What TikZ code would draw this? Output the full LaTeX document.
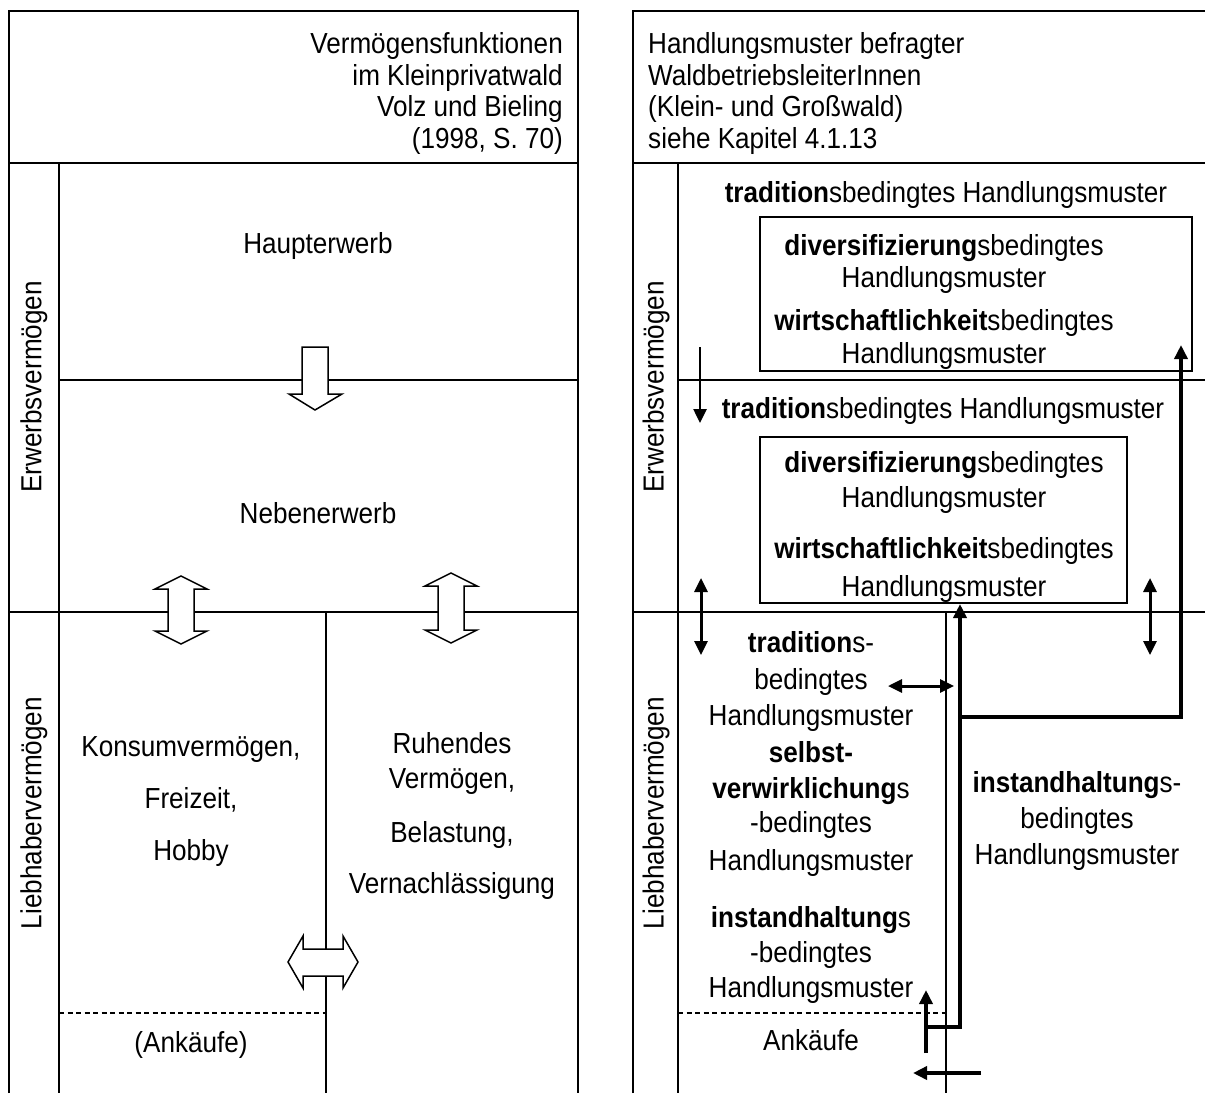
\documentclass[tikz,border=0pt]{standalone}
\usepackage{fontspec}
\setmainfont[FakeStretch=0.9]{Liberation Sans}
\usetikzlibrary{arrows.meta}
\tikzset{
  txt/.style={font=\fontsize{29}{35}\selectfont, inner sep=0pt, anchor=base},
  txtl/.style={txt, anchor=base west},
  txtr/.style={txt, anchor=base east},
  vlabel/.style={font=\fontsize{29}{35}\selectfont, inner sep=0pt, rotate=90, anchor=center},
  rule/.style={line width=2pt},
  dashrule/.style={line width=1.2pt, dash pattern=on 5pt off 3.5pt},
  innerbox/.style={draw, line width=2pt, inner sep=0pt},
  blockarrow/.style={draw, fill=white, line width=1.5pt, line join=miter},
  tip/.tip={Triangle[length=14pt,width=13pt]},
  arr/.style={line width=3pt, -tip},
  darr/.style={line width=3pt, tip-tip},
  heavy/.style={line width=4pt, line join=miter, -tip},
  heavyplain/.style={line width=4pt, line join=miter}
}
\begin{document}
\begin{tikzpicture}[x=1pt,y=-1pt]
\useasboundingbox (0,0) rectangle (1205,1093);

% ---------------- left panel frame
\draw[rule] (9,1093) -- (9,11) -- (578,11) -- (578,1093);
\draw[rule] (9,163) -- (578,163);
\draw[rule] (59,163) -- (59,1093);
\draw[rule] (59,380) -- (578,380);
\draw[rule] (9,612) -- (578,612);
\draw[rule] (326,612) -- (326,1093);
\draw[dashrule] (59,1013) -- (326,1013);

% ---------------- right panel frame
\draw[rule] (633,1093) -- (633,11) -- (1205,11);
\draw[rule] (633,163) -- (1205,163);
\draw[rule] (678,163) -- (678,1093);
\draw[rule] (678,380) -- (1205,380);
\draw[rule] (633,612) -- (1205,612);
\draw[rule] (946,612) -- (946,1093);
\draw[dashrule] (678,1013) -- (946,1013);

% ---------------- left panel texts
\node[txtr] (lh1) at (563,53) {Vermögensfunktionen};
\node[txtr] (lh2) at (563,85) {im Kleinprivatwald};
\node[txtr] (lh3) at (563,116) {Volz und Bieling};
\node[txtr] (lh4) at (563,148) {(1998, S. 70)};
\node[vlabel] (lerw) at (34,387) {Erwerbsvermögen};
\node[vlabel] (llieb) at (34,813) {Liebhabervermögen};
\node[txt] (haupt) at (318,253) {Haupterwerb};
\node[txt] (neben) at (318,523) {Nebenerwerb};
\node[txt] (konsum) at (191,756) {Konsumvermögen,};
\node[txt] (freizeit) at (191,808) {Freizeit,};
\node[txt] (hobby) at (191,860) {Hobby};
\node[txt] (ruh) at (452,753) {Ruhendes};
\node[txt] (verm) at (452,788) {Vermögen,};
\node[txt] (bel) at (452,842) {Belastung,};
\node[txt] (vern) at (452,893) {Vernachlässigung};
\node[txt] (lank) at (191,1052) {(Ankäufe)};

% ---------------- left panel block arrows
\draw[blockarrow] (302,347) -- (328,347) -- (328,394) -- (342,394) -- (315,410)
  -- (289,394) -- (302,394) -- cycle;
\draw[blockarrow] (181,576) -- (207,589) -- (194,589) -- (194,631) -- (207,631)
  -- (181,644) -- (155,631) -- (168,631) -- (168,589) -- (155,589) -- cycle;
\draw[blockarrow] (451,573) -- (477,586) -- (464,586) -- (464,630) -- (477,630)
  -- (451,643) -- (425,630) -- (438,630) -- (438,586) -- (425,586) -- cycle;
\draw[blockarrow] (288,962) -- (303,936) -- (303,949) -- (343,949) -- (343,936)
  -- (358,962) -- (343,988) -- (343,976) -- (303,976) -- (303,988) -- cycle;

% ---------------- right panel texts
\node[txtl] (rh1) at (648,53) {Handlungsmuster befragter};
\node[txtl] (rh2) at (648,85) {WaldbetriebsleiterInnen};
\node[txtl] (rh3) at (648,116) {(Klein- und Großwald)};
\node[txtl] (rh4) at (648,148) {siehe Kapitel 4.1.13};
\node[vlabel] (rerw) at (656,387) {Erwerbsvermögen};
\node[vlabel] (rlieb) at (656,813) {Liebhabervermögen};

\node[txt] (trad1) at (946,202) {\textbf{tradition}sbedingtes Handlungsmuster};
\node[innerbox, minimum width=432pt, minimum height=154pt] (box1) at (976,294) {};
\node[txt] (b1a) at (944,255) {\textbf{diversifizierung}sbedingtes};
\node[txt] (b1b) at (944,287) {Handlungsmuster};
\node[txt] (b1c) at (944,330) {\textbf{wirtschaftlichkeit}sbedingtes};
\node[txt] (b1d) at (944,363) {Handlungsmuster};

\node[txt] (trad2) at (943,418) {\textbf{tradition}sbedingtes Handlungsmuster};
\node[innerbox, minimum width=367pt, minimum height=166pt] (box2) at (943.5,520) {};
\node[txt] (b2a) at (944,472) {\textbf{diversifizierung}sbedingtes};
\node[txt] (b2b) at (944,507) {Handlungsmuster};
\node[txt] (b2c) at (944,558) {\textbf{wirtschaftlichkeit}sbedingtes};
\node[txt] (b2d) at (944,596) {Handlungsmuster};

\node[txt] (l1) at (811,652) {\textbf{tradition}s-};
\node[txt] (l2) at (811,689) {bedingtes};
\node[txt] (l3) at (811,725) {Handlungsmuster};
\node[txt] (l4) at (811,762) {\textbf{selbst-}};
\node[txt] (l5) at (811,798) {\textbf{verwirklichung}s};
\node[txt] (l6) at (811,832) {-bedingtes};
\node[txt] (l7) at (811,870) {Handlungsmuster};
\node[txt] (l8) at (811,927) {\textbf{instandhaltung}s};
\node[txt] (l9) at (811,962) {-bedingtes};
\node[txt] (l10) at (811,997) {Handlungsmuster};
\node[txt] (rank) at (811,1050) {Ankäufe};

\node[txt] (i1) at (1077,792) {\textbf{instandhaltung}s-};
\node[txt] (i2) at (1077,828) {bedingtes};
\node[txt] (i3) at (1077,864) {Handlungsmuster};

% ---------------- right panel arrows
\coordinate (da1) at (700,347);
\coordinate (da2) at (700,423);
\draw[arr, line width=2.5pt] (da1) -- (da2);
\coordinate (la1) at (701,578);
\coordinate (la2) at (701,655);
\draw[darr] (la1) -- (la2);
\coordinate (ra1) at (1150,578);
\coordinate (ra2) at (1150,655);
\draw[darr] (ra1) -- (ra2);
\coordinate (ha1) at (888,686);
\coordinate (ha2) at (954,686);
\draw[darr] (ha1) -- (ha2);

\coordinate (p1) at (926,1027);
\coordinate (p2) at (960,1027);
\coordinate (p3) at (960,717);
\coordinate (p4) at (1181,717);
\coordinate (p5) at (1181,345);
\draw[heavy] (p1) -- (p2) -- (p2 |- box2.south);
\draw[heavy] (p3) -- (p4) -- (p5);
\coordinate (u1) at (926,1053);
\coordinate (u2) at (926,990);
\draw[heavy] (u1) -- (u2);
\coordinate (w1) at (981,1073);
\coordinate (w2) at (913,1073);
\draw[heavy] (w1) -- (w2);
\end{tikzpicture}
\end{document}
